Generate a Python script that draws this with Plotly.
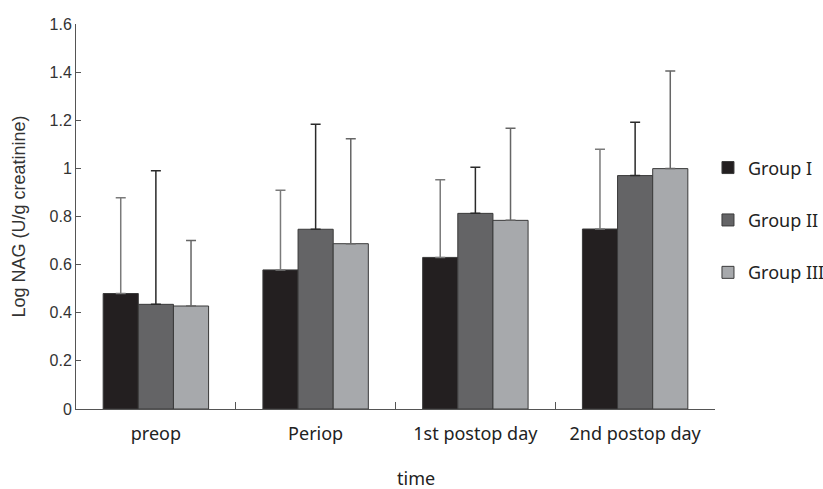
import plotly.graph_objects as go

categories = ["preop", "Periop", "1st postop day", "2nd postop day"]
groups = ["Group I", "Group II", "Group III"]
means = {
    "Group I":   [0.48, 0.578, 0.630, 0.748],
    "Group II":  [0.435, 0.747, 0.813, 0.970],
    "Group III": [0.428, 0.687, 0.784, 0.999],
}
upper = {
    "Group I":   [0.878, 0.909, 0.953, 1.079],
    "Group II":  [0.990, 1.183, 1.005, 1.192],
    "Group III": [0.700, 1.123, 1.167, 1.405],
}
y_ticks = [0, 0.2, 0.4, 0.6, 0.8, 1.0, 1.2, 1.4, 1.6]
y_tick_labels = ["0", "0.2", "0.4", "0.6", "0.8", "1", "1.2", "1.4", "1.6"]

colors = {"Group I": "#231f20", "Group II": "#646466", "Group III": "#a7a9ac"}
err_colors = {"Group I": "#7a7a7a", "Group II": "#2a2a2a", "Group III": "#666666"}

HUM = "Noto Sans, DejaVu Sans, sans-serif"
ARI = "Liberation Sans, Arial, sans-serif"

fig = go.Figure()
for g in groups:
    fig.add_trace(go.Bar(
        name=g, x=categories, y=means[g],
        marker=dict(color=colors[g], line=dict(color="#3a3a3a", width=1)),
        error_y=dict(type="data", symmetric=False,
                     array=[u - m for u, m in zip(upper[g], means[g])],
                     arrayminus=[0] * len(categories),
                     color=err_colors[g], thickness=1.5, width=5),
        legendgroup=g,
    ))

fig.update_layout(
    width=823, height=489,
    margin=dict(l=76, r=108, t=24, b=80, autoexpand=False),
    paper_bgcolor="white", plot_bgcolor="white",
    barmode="group", bargap=0.34, bargroupgap=0,
    font=dict(family=ARI, size=16, color="#333"),
    showlegend=True,
    legend=dict(x=0.989, xanchor="left", y=0.49, yanchor="middle",
                traceorder="grouped", tracegroupgap=26,
                font=dict(family=HUM, size=18, color="#222"),
                bgcolor="rgba(0,0,0,0)"),
    xaxis=dict(
        showline=True, linecolor="#555", linewidth=1,
        ticks="inside", ticklen=7, tickcolor="#555", tickson="boundaries",
        tickfont=dict(family=HUM, size=18, color="#222"),
        ticklabelstandoff=8,
        range=[-0.5, 3.5], showgrid=False, zeroline=False,
    ),
    yaxis=dict(
        range=[0, 1.6], tickvals=y_ticks, ticktext=y_tick_labels,
        showline=True, linecolor="#555", linewidth=1,
        ticks="inside", ticklen=5, tickcolor="#555",
        showgrid=False, zeroline=False, automargin=False,
        title=dict(text="Log NAG (U/g creatinine)", standoff=19,
                   font=dict(family=ARI, size=18, color="#333")),
        tickfont=dict(family=ARI, size=16, color="#333"),
    ),
    annotations=[dict(text="time", xref="paper", yref="paper", x=0.532, y=-0.178,
                      xanchor="center", yanchor="middle", showarrow=False,
                      font=dict(family=HUM, size=18, color="#222"))],
)

fig.write_html("out.html", config={"displayModeBar": False},
               post_script="document.body.style.margin='0';document.body.style.overflow='hidden';")
